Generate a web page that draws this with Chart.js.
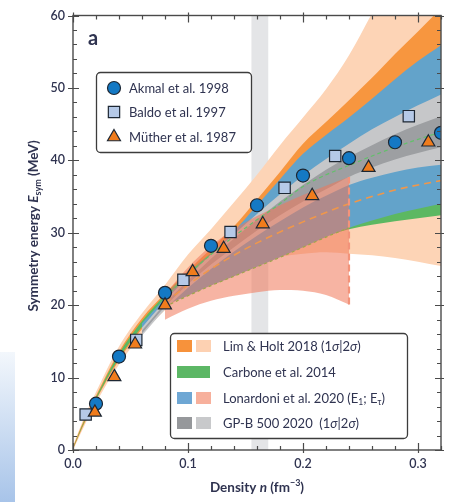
<!DOCTYPE html>
<html>
<head>
<meta charset="utf-8">
<script src="https://cdn.jsdelivr.net/npm/chart.js@4.4.1/dist/chart.umd.min.js"></script>
<style>
  html, body { margin: 0; padding: 0; background: #fff; }
  #wrap { position: relative; width: 452px; height: 502px; overflow: hidden; background: #fff; }
  #edge { position: absolute; left: 0; top: 352px; width: 15px; height: 150px;
          background: linear-gradient(to bottom, #f3f7fc 0%, #a8c4e9 100%); }
  canvas { position: absolute; left: 0; top: 0; }
</style>
</head>
<body>
<div id="wrap">
  <div id="edge"></div>
  <canvas id="chart" width="452" height="502"></canvas>
</div>
<script>
// ---- Density grids (fm^-3) ----
const densLH  = [0, 0.01, 0.02, 0.04, 0.06, 0.08, 0.10, 0.12, 0.14, 0.16, 0.18, 0.20, 0.22, 0.24, 0.26, 0.28, 0.30, 0.32];
const densLon = [0.06, 0.08, 0.10, 0.12, 0.14, 0.16, 0.18, 0.20, 0.22, 0.24, 0.26, 0.28, 0.30, 0.32];
const densTau = [0.08, 0.10, 0.12, 0.14, 0.16, 0.18, 0.20, 0.22, 0.24];
const densMid = [0.08, 0.10, 0.12, 0.14, 0.16, 0.18, 0.20, 0.22, 0.24, 0.26, 0.28, 0.30, 0.32];

// ---- Lim & Holt 2018 bands (MeV) ----
const limHolt2sHi = [0.6, 4.6, 8.0, 14.3, 18.9, 22.8, 27.0, 30.5, 34.2, 38.0, 42.1, 45.9, 49.8, 54.5, 60.3, 66.0, 72.0, 78.0];
const limHolt2sLo = [0.0, 3.4, 6.5, 11.8, 16.0, 19.3, 21.8, 23.6, 25.0, 26.0, 26.7, 27.1, 27.3, 27.1, 26.9, 26.5, 26.0, 25.4];
const limHolt1sHi = [0.4, 4.3, 7.5, 13.6, 18.2, 21.6, 24.8, 27.8, 30.9, 34.6, 38.4, 42.3, 45.3, 48.3, 51.4, 54.7, 57.8, 61.0];
const limHolt1sLo = [0.1, 3.7, 6.9, 12.4, 16.7, 20.1, 23.0, 25.5, 27.5, 29.0, 30.2, 31.2, 32.0, 32.5, 32.9, 33.2, 33.5, 33.7];

// ---- Carbone et al. 2014 ----
const carboneHi = [0.3, 4.1, 7.3, 13.3, 17.8, 21.4, 24.5, 27.2, 29.6, 31.8, 33.7, 35.4, 36.9, 38.2, 39.3, 40.3, 41.2, 42.0];
const carboneLo = [0.2, 3.9, 7.0, 12.7, 17.0, 20.3, 22.0, 24.0, 25.8, 27.2, 28.3, 29.1, 29.6, 30.5, 31.1, 31.6, 32.0, 32.4];

// ---- Lonardoni et al. 2020: E_1 band and E_tau band ----
const lonE1Hi = [17.5, 21.0, 24.1, 27.0, 30.2, 33.8, 37.4, 40.9, 43.5, 45.9, 48.5, 51.2, 53.7, 55.9];
const lonE1Lo = [16.8, 19.8, 21.3, 22.7, 24.0, 25.3, 26.6, 28.0, 29.4, 30.7, 31.7, 32.6, 33.3, 34.0];
const lonEtHi = [21.5, 25.2, 28.2, 30.5, 32.3, 33.8, 35.2, 36.5, 37.7];
const lonEtLo = [18.0, 19.5, 20.6, 21.3, 21.8, 22.1, 22.0, 21.4, 20.1];
const lonE1Edge = [19.8, 21.3, 22.7, 24.0, 25.3, 26.6, 28.0, 29.4, 30.7];

// ---- GP-B 500 2020 ----
const gpb2sHi = [16.9, 20.6, 23.9, 27.0, 29.8, 32.6, 35.3, 37.9, 40.2, 42.3, 44.3, 46.0, 47.6, 49.1];
const gpb2sLo = [15.8, 19.4, 22.4, 25.0, 27.4, 29.6, 31.6, 33.5, 35.1, 36.6, 37.6, 38.4, 39.0, 39.4];
const gpb1sHi = [16.5, 20.2, 23.4, 26.4, 29.2, 31.8, 34.3, 36.6, 38.7, 40.5, 42.1, 43.6, 44.9, 46.1];
const gpb1sLo = [16.1, 19.8, 22.9, 25.6, 28.0, 30.3, 32.4, 34.3, 36.0, 37.7, 39.0, 40.1, 41.0, 41.8];

// ---- Central (dashed) curves ----
const orangeMid = [20.3, 22.8, 25.0, 26.9, 28.6, 30.1, 31.5, 32.8, 34.0, 35.0, 35.9, 36.6, 37.2];
const greenMid  = [21.0, 24.2, 27.0, 29.5, 31.8, 34.0, 36.4, 38.0, 39.3, 40.6, 41.8, 42.9, 43.9];

// ---- Microscopic calculations ----
const akmalN  = [0.02, 0.04, 0.08, 0.12, 0.16, 0.20, 0.24, 0.28, 0.32];
const akmalE  = [6.4, 12.9, 21.7, 28.2, 33.8, 37.9, 40.3, 42.5, 43.8];
const baldoN  = [0.011, 0.055, 0.096, 0.137, 0.184, 0.228, 0.292];
const baldoE  = [4.9, 15.2, 23.5, 30.1, 36.2, 40.6, 46.1];
const mutherN = [0.019, 0.036, 0.054, 0.08, 0.104, 0.131, 0.165, 0.208, 0.257, 0.309];
const mutherE = [5.2, 10.1, 14.6, 20.0, 24.6, 27.8, 31.2, 35.1, 39.0, 42.5];

// ---- Saturation density band and axis ticks ----
const satBand = [0.155, 0.17];
const xTickValues = [0, 0.1, 0.2, 0.3];
const yTickValues = [0, 10, 20, 30, 40, 50, 60];

const FONT = 'Lato, "Open Sans", sans-serif';
const TEXT = '#2f3350';

const pts = (xs, ys) => xs.map((x, i) => ({ x, y: ys[i] }));
const datasets = [];

function band(xs, hi, lo, color, order) {
  datasets.push({ data: pts(xs, hi), fill: '+1', backgroundColor: color, borderWidth: 0,
                  pointRadius: 0, order, cubicInterpolationMode: 'monotone' });
  datasets.push({ data: pts(xs, lo), fill: false, borderWidth: 0, pointRadius: 0,
                  order, cubicInterpolationMode: 'monotone' });
}
function dashed(xs, ys, color, width, dash, order) {
  datasets.push({ data: pts(xs, ys), fill: false, borderColor: color, borderWidth: width,
                  borderDash: dash, pointRadius: 0, order, cubicInterpolationMode: 'monotone' });
}
function markers(xs, ys, style, radius, fill, order) {
  datasets.push({ data: pts(xs, ys), showLine: false, pointStyle: style, pointRadius: radius,
                  pointBackgroundColor: fill, pointBorderColor: '#1d2733', pointBorderWidth: 1.2,
                  order, clip: 0 });
}

// saturation density strip
datasets.push({ data: [{ x: satBand[0], y: 60 }, { x: satBand[1], y: 60 }], fill: 'origin',
                backgroundColor: '#e4e5e7', borderWidth: 0, pointRadius: 0, order: 30 });

band(densLH, limHolt2sHi, limHolt2sLo, '#fdd4b6', 29);
band(densLH, limHolt1sHi, limHolt1sLo, '#f7963f', 28);
band(densLH, carboneHi, carboneLo, '#5cb862', 27);
band(densLon, lonE1Hi, lonE1Lo, '#63a3ca', 26);
band(densLon, gpb2sHi, gpb2sLo, '#c6c7c9', 25);
band(densLon, gpb1sHi, gpb1sLo, '#9d9fa2', 24);
band(densTau, lonEtHi, lonEtLo, 'rgba(240,118,88,0.55)', 23);

dashed(densTau, lonE1Edge, '#9ea74a', 1.2, [3, 3], 22);
dashed(densMid, orangeMid, '#f0974a', 1.6, [7, 5], 21);
dashed(densMid, greenMid, '#62c06a', 1.2, [4, 3], 20);
// closing edge of the E_tau band
datasets.push({ data: [{ x: densTau[densTau.length - 1], y: lonEtLo[lonEtLo.length - 1] },
                       { x: densTau[densTau.length - 1], y: lonEtHi[lonEtHi.length - 1] }],
                fill: false, borderColor: '#f3937a', borderWidth: 2.2, borderDash: [7, 4],
                pointRadius: 0, order: 19 });

markers(baldoN, baldoE, 'rect', 8, '#b5c9e7', 3);
markers(akmalN, akmalE, 'circle', 6.5, '#1479c4', 2);
markers(mutherN, mutherE, 'triangle', 7.5, '#f07c1c', 1);

function drawRich(ctx, segs, x, y, align) {
  const base = 13;
  const fontFor = s => `${s.italic ? 'italic ' : ''}${s.bold ? 'bold ' : ''}${s.size || base}px ${FONT}`;
  let total = 0;
  segs.forEach(s => { ctx.font = fontFor(s); s.w = ctx.measureText(s.t).width; total += s.w; });
  let cx = align === 'center' ? x - total / 2 : x;
  segs.forEach(s => {
    ctx.font = fontFor(s);
    ctx.fillText(s.t, cx, y + (s.dy || 0));
    cx += s.w;
  });
}

const decor = {
  id: 'decor',
  afterDraw(chart) {
    const { ctx, chartArea: a, scales: { x, y } } = chart;
    ctx.save();
    // frame
    ctx.strokeStyle = '#4a4a4a';
    ctx.lineWidth = 1.4;
    ctx.strokeRect(a.left, a.top, a.right - a.left, a.bottom - a.top);
    // tick marks on all four sides, pointing inward
    ctx.lineWidth = 1.2;
    ctx.beginPath();
    for (let i = 0; i <= 16; i++) {
      const px = Math.round(x.getPixelForValue(i * 0.02)) + 0.5;
      const major = i % 5 === 0;
      const len = major ? 7 : 4;
      ctx.moveTo(px, a.bottom + (major ? 3 : 0)); ctx.lineTo(px, a.bottom - len);
      ctx.moveTo(px, a.top - (major ? 3 : 0)); ctx.lineTo(px, a.top + len);
    }
    for (let v = 0; v <= 60; v += 2) {
      const py = Math.round(y.getPixelForValue(v)) + 0.5;
      const major = v % 10 === 0;
      const len = major ? 6 : 4;
      ctx.moveTo(a.left - (major ? 5 : 0), py); ctx.lineTo(a.left + len, py);
      ctx.moveTo(a.right + (major ? 3 : 0), py); ctx.lineTo(a.right - len, py);
    }
    ctx.stroke();

    ctx.fillStyle = TEXT;
    ctx.textBaseline = 'alphabetic';
    // panel letter
    ctx.font = `bold 20px ${FONT}`;
    ctx.fillText('a', 88, 45);

    // axis titles
    ctx.save();
    ctx.translate(38, 226);
    ctx.rotate(-Math.PI / 2);
    drawRich(ctx, [
      { t: 'Symmetry energy ', bold: true, size: 13.5 },
      { t: 'E', bold: true, italic: true, size: 13.5 },
      { t: 'sym', bold: true, size: 9, dy: 3 },
      { t: ' (MeV)', bold: true, size: 13.5 }
    ], 0, 0, 'center');
    ctx.restore();
    drawRich(ctx, [
      { t: 'Density ', bold: true, size: 13.5 },
      { t: 'n', bold: true, italic: true, size: 13.5 },
      { t: ' (fm', bold: true, size: 13.5 },
      { t: '\u22123', bold: true, size: 9, dy: -6 },
      { t: ')', bold: true, size: 13.5 }
    ], 257, 492, 'center');

    // legend: microscopic calculations
    const box = (x0, y0, x1, y1) => {
      ctx.beginPath();
      ctx.roundRect(x0 + 0.5, y0 + 0.5, x1 - x0, y1 - y0, 4);
      ctx.fillStyle = '#fff';
      ctx.fill();
      ctx.strokeStyle = '#3c3c3c';
      ctx.lineWidth = 1.3;
      ctx.stroke();
    };
    box(96, 72, 251, 152);
    const mk = [
      { style: 'circle', r: 6.5, fill: '#1479c4', label: 'Akmal et al. 1998', y: 88 },
      { style: 'rect', r: 8, fill: '#b5c9e7', label: 'Baldo et al. 1997', y: 112 },
      { style: 'triangle', r: 7.5, fill: '#f07c1c', label: 'M\u00fcther et al. 1987', y: 137 }
    ];
    mk.forEach(m => {
      ctx.fillStyle = m.fill;
      ctx.strokeStyle = '#1d2733';
      ctx.lineWidth = 1.2;
      Chart.helpers.drawPoint(ctx, { pointStyle: m.style, radius: m.r, rotation: 0, borderWidth: 1.2 }, 114, m.y);
      ctx.fillStyle = TEXT;
      ctx.font = `13px ${FONT}`;
      ctx.textBaseline = 'middle';
      ctx.fillText(m.label, 129, m.y + 1);
    });

    // legend: bands
    box(170, 333, 407, 438);
    const rows = [
      { sw: ['#f7923b', '#fdd1b2'], y: 346, segs: [
        { t: 'Lim & Holt 2018 (1' }, { t: '\u03c3', italic: true }, { t: '|2' }, { t: '\u03c3', italic: true }, { t: ')' }] },
      { sw: ['#5cb765'], y: 372, segs: [{ t: 'Carbone et al. 2014' }] },
      { sw: ['#6ea7d4', '#f7b09c'], y: 398, segs: [
        { t: 'Lonardoni et al. 2020 (E' }, { t: '1', size: 8.5, dy: 3 }, { t: '; E' }, { t: '\u03c4', size: 8.5, dy: 3 }, { t: ')' }] },
      { sw: ['#96989b', '#c8c9cb'], y: 423, segs: [
        { t: 'GP-B 500 2020  (1' }, { t: '\u03c3', italic: true }, { t: '|2' }, { t: '\u03c3', italic: true }, { t: ')' }] }
    ];
    rows.forEach(r => {
      if (r.sw.length === 1) {
        ctx.fillStyle = r.sw[0];
        ctx.fillRect(177, r.y - 6, 33, 12);
      } else {
        ctx.fillStyle = r.sw[0];
        ctx.fillRect(177, r.y - 6, 15, 12);
        ctx.fillStyle = r.sw[1];
        ctx.fillRect(196, r.y - 6, 15, 12);
      }
      ctx.fillStyle = TEXT;
      ctx.textBaseline = 'middle';
      drawRich(ctx, r.segs, 223, r.y + 1, 'left');
    });
    ctx.restore();
  }
};

new Chart(document.getElementById('chart'), {
  type: 'line',
  data: { datasets },
  options: {
    responsive: false,
    animation: false,
    devicePixelRatio: 1,
    layout: { padding: { left: 0, top: 8, right: 11, bottom: 0 } },
    plugins: { legend: { display: false }, tooltip: { enabled: false } },
    scales: {
      x: {
        type: 'linear', min: 0, max: 0.32,
        grid: { display: false, drawTicks: false }, border: { display: false },
        afterBuildTicks: s => { s.ticks = xTickValues.map(v => ({ value: v })); },
        afterFit: s => { s.height = 52; },
        ticks: { padding: 6, maxRotation: 0, autoSkip: false, color: TEXT,
                 font: { family: FONT, size: 12.5, weight: '600' },
                 callback: v => Number(v).toFixed(1) }
      },
      y: {
        type: 'linear', min: 0, max: 60,
        grid: { display: false, drawTicks: false }, border: { display: false },
        afterBuildTicks: s => { s.ticks = yTickValues.map(v => ({ value: v })); },
        afterFit: s => { s.width = 73; },
        ticks: { padding: 8, autoSkip: false, color: TEXT,
                 font: { family: FONT, size: 12.5, weight: '600' } }
      }
    }
  },
  plugins: [decor]
});
</script>
</body>
</html>
